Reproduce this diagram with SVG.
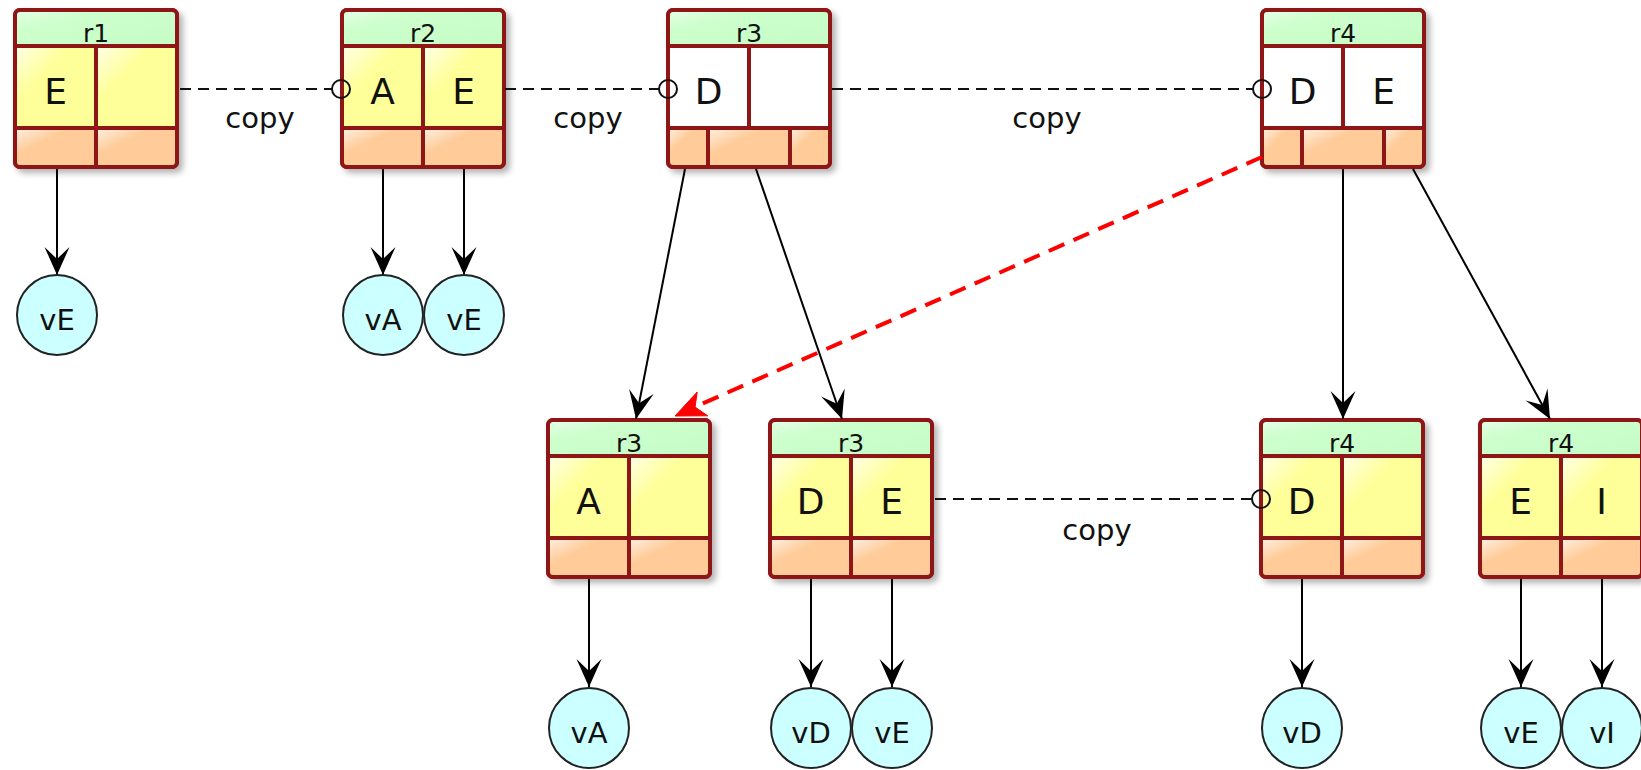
<svg xmlns="http://www.w3.org/2000/svg" width="1641" height="770" viewBox="0 0 1641 770">
<style>
text{font-family:"DejaVu Sans","Liberation Sans",sans-serif;fill:#111}
.hd{font-size:25px;text-anchor:middle}
.cl{font-size:36px;text-anchor:middle}
.cp{font-size:29px;text-anchor:middle}
.vl{font-size:29px;text-anchor:middle}
.frame{fill:none;stroke:#8E1616;stroke-width:4}
.base{fill:#fff;stroke:#8E1616;stroke-width:4;filter:url(#sh)}
.sep{fill:none;stroke:#8E1616;stroke-width:4}
.hdr{fill:url(#gG)}
.yel{fill:url(#gY)}
.org{fill:url(#gO)}
.wht{fill:#fff}
.val{fill:#CCFFFF;stroke:#222;stroke-width:2}
.arr{fill:none;stroke:#000;stroke-width:2;marker-end:url(#ah)}
.cpy{fill:none;stroke:#111;stroke-width:2;stroke-dasharray:11 7}
.ring{fill:none;stroke:#111;stroke-width:2}
.red{fill:none;stroke:#FF0000;stroke-width:4;stroke-dasharray:17 10}
.redhead{fill:#FF0000;stroke:#FF0000;stroke-width:1;stroke-linejoin:round}
</style>
<defs>
<filter id="sh" x="-10%" y="-10%" width="130%" height="130%">
<feDropShadow dx="4" dy="4" stdDeviation="3" flood-color="#000" flood-opacity="0.3"/>
</filter>
<linearGradient id="gG" x1="0" y1="0" x2="1" y2="1">
<stop offset="0" stop-color="#E8FFE8"/><stop offset="0.3" stop-color="#CCFFCC"/><stop offset="1" stop-color="#C6FBC6"/>
</linearGradient>
<linearGradient id="gY" x1="0" y1="0" x2="1" y2="1">
<stop offset="0" stop-color="#FFFFE8"/><stop offset="0.35" stop-color="#FFFF99"/><stop offset="1" stop-color="#FFFF99"/>
</linearGradient>
<linearGradient id="gO" x1="0" y1="0" x2="1" y2="1">
<stop offset="0" stop-color="#FFF0E4"/><stop offset="0.35" stop-color="#FFCC99"/><stop offset="1" stop-color="#FFCC99"/>
</linearGradient>
<marker id="ah" markerUnits="userSpaceOnUse" viewBox="-30 -15 32 30" refX="0" refY="0" markerWidth="32" markerHeight="30" orient="auto">
<path d="M0,0 L-28,-12.5 L-16,0 L-28,12.5 Z" fill="#000"/>
</marker>
</defs>
<rect width="1641" height="770" fill="#fff"/>

<g id="n_r1" transform="translate(15,10)">
<rect class="base" width="162" height="157" rx="5"/>
<rect class="hdr" width="162" height="36" rx="4"/>
<rect class="yel" x="0" y="36" width="81" height="82"/>
<rect class="yel" x="81" y="36" width="81" height="82"/>
<rect class="org" x="0" y="118" width="81" height="39" rx="3"/>
<rect class="org" x="81" y="118" width="81" height="39" rx="3"/>
<path class="sep" d="M0,36 H162 M0,118 H162 M81,36 V157"/>
<rect class="frame" width="162" height="157" rx="5"/>
<text class="hd" x="81" y="32">r1</text>
<text class="cl" x="40.5" y="94">E</text>
</g>

<g id="n_r2" transform="translate(342,10)">
<rect class="base" width="162" height="157" rx="5"/>
<rect class="hdr" width="162" height="36" rx="4"/>
<rect class="yel" x="0" y="36" width="81" height="82"/>
<rect class="yel" x="81" y="36" width="81" height="82"/>
<rect class="org" x="0" y="118" width="81" height="39" rx="3"/>
<rect class="org" x="81" y="118" width="81" height="39" rx="3"/>
<path class="sep" d="M0,36 H162 M0,118 H162 M81,36 V157"/>
<rect class="frame" width="162" height="157" rx="5"/>
<text class="hd" x="81" y="32">r2</text>
<text class="cl" x="40.5" y="94">A</text>
<text class="cl" x="121.5" y="94">E</text>
</g>

<g id="n_r3_top" transform="translate(668,10)">
<rect class="base" width="162" height="157" rx="5"/>
<rect class="hdr" width="162" height="36" rx="4"/>
<rect class="wht" x="0" y="36" width="162" height="82"/>
<rect class="org" x="0" y="118" width="40" height="39" rx="3"/>
<rect class="org" x="40" y="118" width="82" height="39"/>
<rect class="org" x="122" y="118" width="40" height="39" rx="3"/>
<path class="sep" d="M0,36 H162 M0,118 H162 M81,36 V118 M40,118 V157 M122,118 V157"/>
<rect class="frame" width="162" height="157" rx="5"/>
<text class="hd" x="81" y="32">r3</text>
<text class="cl" x="40.5" y="94">D</text>
</g>

<g id="n_r4_top" transform="translate(1262,10)">
<rect class="base" width="162" height="157" rx="5"/>
<rect class="hdr" width="162" height="36" rx="4"/>
<rect class="wht" x="0" y="36" width="162" height="82"/>
<rect class="org" x="0" y="118" width="40" height="39" rx="3"/>
<rect class="org" x="40" y="118" width="82" height="39"/>
<rect class="org" x="122" y="118" width="40" height="39" rx="3"/>
<path class="sep" d="M0,36 H162 M0,118 H162 M81,36 V118 M40,118 V157 M122,118 V157"/>
<rect class="frame" width="162" height="157" rx="5"/>
<text class="hd" x="81" y="32">r4</text>
<text class="cl" x="40.5" y="94">D</text>
<text class="cl" x="121.5" y="94">E</text>
</g>

<g id="n_r3_a" transform="translate(548,420)">
<rect class="base" width="162" height="157" rx="5"/>
<rect class="hdr" width="162" height="36" rx="4"/>
<rect class="yel" x="0" y="36" width="81" height="82"/>
<rect class="yel" x="81" y="36" width="81" height="82"/>
<rect class="org" x="0" y="118" width="81" height="39" rx="3"/>
<rect class="org" x="81" y="118" width="81" height="39" rx="3"/>
<path class="sep" d="M0,36 H162 M0,118 H162 M81,36 V157"/>
<rect class="frame" width="162" height="157" rx="5"/>
<text class="hd" x="81" y="32">r3</text>
<text class="cl" x="40.5" y="94">A</text>
</g>

<g id="n_r3_de" transform="translate(770,420)">
<rect class="base" width="162" height="157" rx="5"/>
<rect class="hdr" width="162" height="36" rx="4"/>
<rect class="yel" x="0" y="36" width="81" height="82"/>
<rect class="yel" x="81" y="36" width="81" height="82"/>
<rect class="org" x="0" y="118" width="81" height="39" rx="3"/>
<rect class="org" x="81" y="118" width="81" height="39" rx="3"/>
<path class="sep" d="M0,36 H162 M0,118 H162 M81,36 V157"/>
<rect class="frame" width="162" height="157" rx="5"/>
<text class="hd" x="81" y="32">r3</text>
<text class="cl" x="40.5" y="94">D</text>
<text class="cl" x="121.5" y="94">E</text>
</g>

<g id="n_r4_d" transform="translate(1261,420)">
<rect class="base" width="162" height="157" rx="5"/>
<rect class="hdr" width="162" height="36" rx="4"/>
<rect class="yel" x="0" y="36" width="81" height="82"/>
<rect class="yel" x="81" y="36" width="81" height="82"/>
<rect class="org" x="0" y="118" width="81" height="39" rx="3"/>
<rect class="org" x="81" y="118" width="81" height="39" rx="3"/>
<path class="sep" d="M0,36 H162 M0,118 H162 M81,36 V157"/>
<rect class="frame" width="162" height="157" rx="5"/>
<text class="hd" x="81" y="32">r4</text>
<text class="cl" x="40.5" y="94">D</text>
</g>

<g id="n_r4_ei" transform="translate(1480,420)">
<rect class="base" width="162" height="157" rx="5"/>
<rect class="hdr" width="162" height="36" rx="4"/>
<rect class="yel" x="0" y="36" width="81" height="82"/>
<rect class="yel" x="81" y="36" width="81" height="82"/>
<rect class="org" x="0" y="118" width="81" height="39" rx="3"/>
<rect class="org" x="81" y="118" width="81" height="39" rx="3"/>
<path class="sep" d="M0,36 H162 M0,118 H162 M81,36 V157"/>
<rect class="frame" width="162" height="157" rx="5"/>
<text class="hd" x="81" y="32">r4</text>
<text class="cl" x="40.5" y="94">E</text>
<text class="cl" x="121.5" y="94">I</text>
</g>

<g id="connectors">
<path class="cpy" d="M180,89 H332"/>
<circle class="ring" cx="341" cy="89" r="9"/>
<path class="cpy" d="M505,89 H659"/>
<circle class="ring" cx="668" cy="89" r="9"/>
<path class="cpy" d="M832,89 H1253"/>
<circle class="ring" cx="1262" cy="89" r="9"/>
<path class="cpy" d="M935,499 H1252"/>
<circle class="ring" cx="1261" cy="499" r="9"/>
<text class="cp" x="260" y="128">copy</text>
<text class="cp" x="588" y="128">copy</text>
<text class="cp" x="1047" y="128">copy</text>
<text class="cp" x="1097" y="540">copy</text>
<path class="arr" d="M57,169 V275"/>
<path class="arr" d="M383,169 V275"/>
<path class="arr" d="M464,169 V275"/>
<path class="arr" d="M685,169 L636,419"/>
<path class="arr" d="M756,169 L842,419"/>
<path class="arr" d="M1343,169 V419"/>
<path class="arr" d="M1413,169 L1550,419"/>
<path class="red" d="M1262,157 L697,406"/>
<path class="redhead" d="M675,416 L697.2,392 L695.1,407.1 L707.7,415.8 Z"/>
<path class="arr" d="M589,579 V687"/>
<path class="arr" d="M811,579 V687"/>
<path class="arr" d="M892,579 V687"/>
<path class="arr" d="M1302,579 V687"/>
<path class="arr" d="M1521,579 V687"/>
<path class="arr" d="M1602,579 V687"/>
</g>

<g id="v_r1_E"><circle class="val" cx="57" cy="315" r="40"/><text class="vl" x="57" y="330">vE</text></g>
<g id="v_r2_A"><circle class="val" cx="383" cy="315" r="40"/><text class="vl" x="383" y="330">vA</text></g>
<g id="v_r2_E"><circle class="val" cx="464" cy="315" r="40"/><text class="vl" x="464" y="330">vE</text></g>
<g id="v_r3_A"><circle class="val" cx="589" cy="728" r="40"/><text class="vl" x="589" y="743">vA</text></g>
<g id="v_r3_D"><circle class="val" cx="811" cy="728" r="40"/><text class="vl" x="811" y="743">vD</text></g>
<g id="v_r3_E"><circle class="val" cx="892" cy="728" r="40"/><text class="vl" x="892" y="743">vE</text></g>
<g id="v_r4_D"><circle class="val" cx="1302" cy="728" r="40"/><text class="vl" x="1302" y="743">vD</text></g>
<g id="v_r4_E"><circle class="val" cx="1521" cy="728" r="40"/><text class="vl" x="1521" y="743">vE</text></g>
<g id="v_r4_I"><circle class="val" cx="1602" cy="728" r="40"/><text class="vl" x="1602" y="743">vI</text></g>
</svg>
